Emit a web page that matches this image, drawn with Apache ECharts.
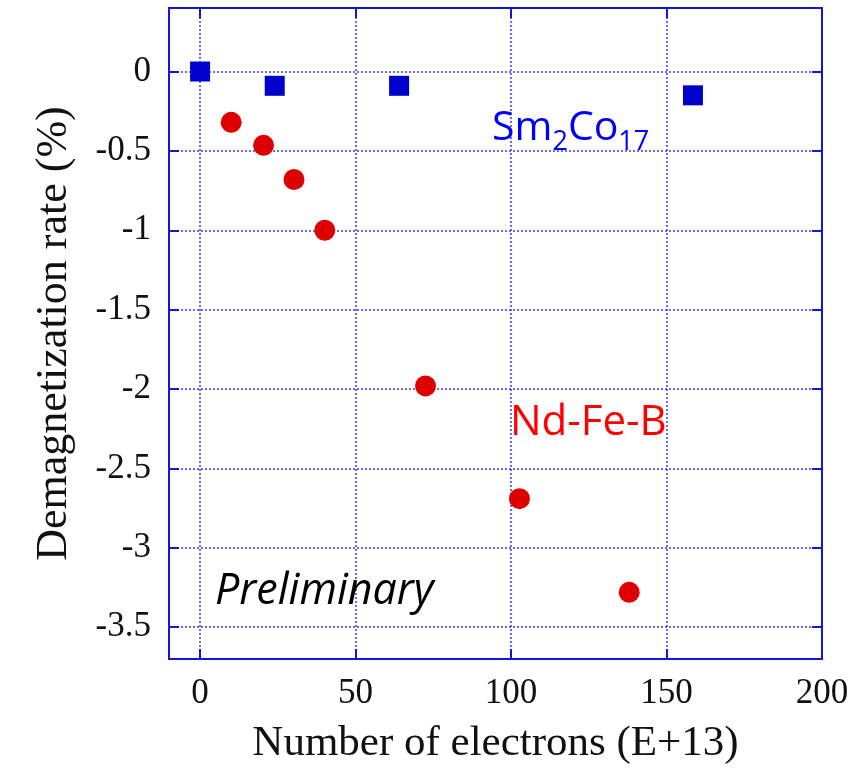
<!DOCTYPE html>
<html>
<head>
<meta charset="utf-8">
<script src="https://cdn.jsdelivr.net/npm/echarts@6/dist/echarts.min.js"></script>
<style>html,body{margin:0;padding:0;background:#fff;}#c{width:865px;height:771px;}</style>
</head>
<body>
<div id="c"></div>
<script>
// Data
var smCoX = [0, 24, 64, 158.5];
var smCoY = [0, -0.09, -0.09, -0.15];
var ndFeBX = [10, 20.4, 30.2, 40.1, 72.5, 102.7, 138];
var ndFeBY = [-0.32, -0.465, -0.68, -1.0, -1.98, -2.69, -3.28];
var xTicks = [0, 50, 100, 150, 200];
var yTicks = [0, -0.5, -1, -1.5, -2, -2.5, -3, -3.5];
var xMin = -10, xMax = 200, yMin = -3.7, yMax = 0.4;

var chart = echarts.init(document.getElementById('c'));

function pairs(xs, ys) { return xs.map(function (x, i) { return [x, ys[i]]; }); }

var gridStyle = { color: '#3a3aff', width: 1.5, type: [2, 2] };
var tickStyle = { color: '#1515e0', width: 2, type: 'solid' };

var gridLines = [];
xTicks.forEach(function (v) { if (v > xMin && v < xMax) gridLines.push({ xAxis: v, lineStyle: gridStyle }); });
yTicks.forEach(function (v) { gridLines.push({ yAxis: v, lineStyle: gridStyle }); });

var tickLen = 10; // px
var xUnitPerPx = (xMax - xMin) / 652;
var yUnitPerPx = (yMax - yMin) / 651;
var ticks = [];
xTicks.forEach(function (v) {
  ticks.push([{ coord: [v, yMin], lineStyle: tickStyle }, { coord: [v, yMin + tickLen * yUnitPerPx] }]);
  ticks.push([{ coord: [v, yMax], lineStyle: tickStyle }, { coord: [v, yMax - tickLen * yUnitPerPx] }]);
});
yTicks.forEach(function (v) {
  ticks.push([{ coord: [xMin, v], lineStyle: tickStyle }, { coord: [xMin + tickLen * xUnitPerPx, v] }]);
  ticks.push([{ coord: [xMax, v], lineStyle: tickStyle }, { coord: [xMax - tickLen * xUnitPerPx, v] }]);
});

var serif = '"Liberation Serif", "DejaVu Serif", serif';

chart.setOption({
  animation: false,
  backgroundColor: '#ffffff',
  grid: { left: 169, right: 43, top: 8, bottom: 112, show: true, borderColor: '#1515e0', borderWidth: 2, backgroundColor: 'transparent' },
  xAxis: {
    type: 'value', min: xMin, max: xMax, interval: 10,
    name: 'Number of electrons (E+13)', nameLocation: 'middle', nameGap: 63,
    nameTextStyle: { fontFamily: serif, fontSize: 43, color: '#111' },
    axisLine: { show: false }, axisTick: { show: false }, splitLine: { show: false },
    axisLabel: {
      fontFamily: serif, fontSize: 35, color: '#111', margin: 17, showMaxLabel: true, showMinLabel: true,
      formatter: function (v) { return xTicks.indexOf(Math.round(v)) >= 0 && Math.abs(v - Math.round(v)) < 1e-6 ? String(Math.round(v)) : ''; }
    }
  },
  yAxis: {
    type: 'value', min: yMin, max: yMax, interval: 0.1,
    name: 'Demagnetization rate (%)', nameLocation: 'middle', nameGap: 93,
    nameTextStyle: { fontFamily: serif, fontSize: 44, color: '#111' },
    axisLine: { show: false }, axisTick: { show: false }, splitLine: { show: false },
    axisLabel: {
      fontFamily: serif, fontSize: 35, color: '#111', margin: 18, showMaxLabel: false, showMinLabel: false,
      formatter: function (v) {
        for (var i = 0; i < yTicks.length; i++) { if (Math.abs(v - yTicks[i]) < 1e-6) return String(yTicks[i]); }
        return '';
      }
    }
  },
  series: [
    {
      name: 'frame', type: 'line', data: [], silent: true,
      markLine: { silent: true, symbol: 'none', label: { show: false }, animation: false, data: gridLines.concat(ticks) }
    },
    {
      name: 'Sm2Co17', type: 'scatter', symbol: 'rect', symbolSize: 20, z: 5,
      itemStyle: { color: '#0000cc', opacity: 1 }, data: pairs(smCoX, smCoY)
    },
    {
      name: 'Nd-Fe-B', type: 'scatter', symbol: 'circle', symbolSize: 21, z: 5,
      itemStyle: { color: '#dd0000', opacity: 1 }, data: pairs(ndFeBX, ndFeBY)
    }
  ],
  graphic: [
    {
      type: 'text', left: 492, top: 108, z: 10,
      style: {
        text: '{a|Sm}{b|2}{a|Co}{b|17}', fill: '#0000ff',
        rich: {
          a: { fontFamily: '"Open Sans", sans-serif', fontSize: 41, fill: '#0000ff', height: 54, verticalAlign: 'top' },
          b: { fontFamily: '"Open Sans", sans-serif', fontSize: 27, fill: '#0000ff', verticalAlign: 'bottom' }
        }
      }
    },
    {
      type: 'text', left: 510, top: 402, z: 10,
      style: { text: 'Nd-Fe-B', fill: '#ff0000', fontFamily: '"Open Sans", sans-serif', fontSize: 42 }
    },
    {
      type: 'text', left: 215, top: 570, z: 10,
      style: { text: 'Preliminary', fill: '#000', fontFamily: '"Open Sans", sans-serif', fontStyle: 'italic', fontSize: 43 }
    }
  ]
});
</script>
</body>
</html>
